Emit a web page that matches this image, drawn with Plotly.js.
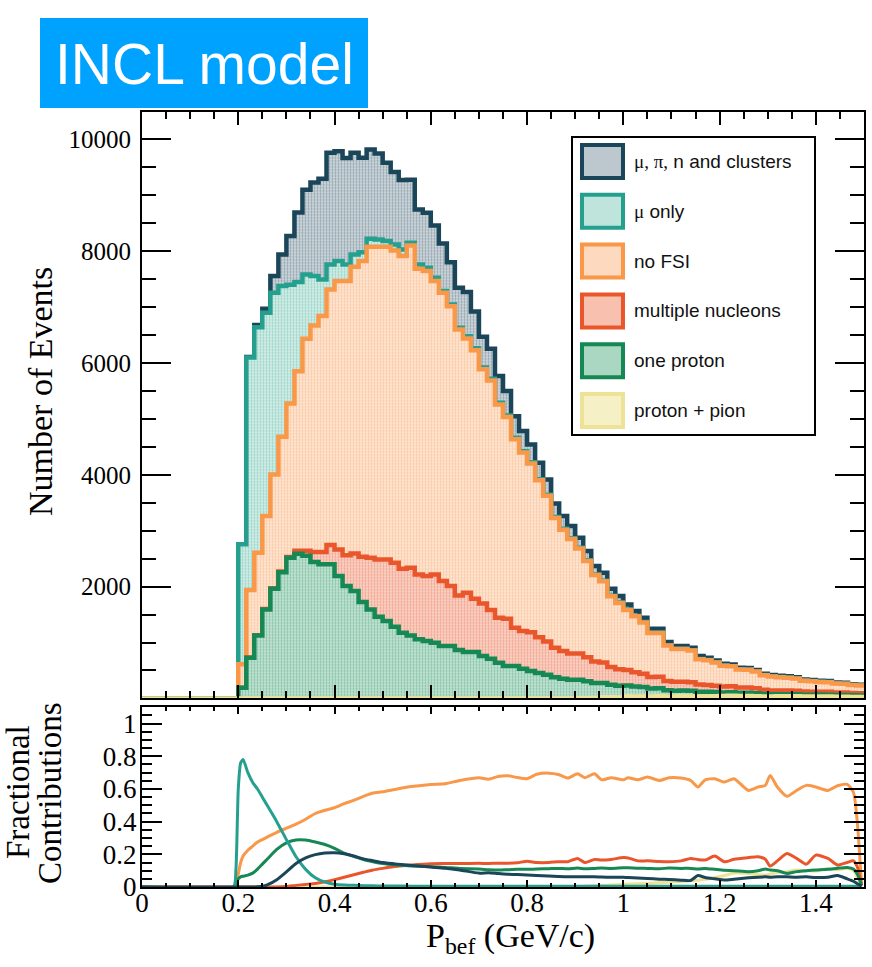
<!DOCTYPE html>
<html>
<head>
<meta charset="utf-8">
<script src="https://cdn.plot.ly/plotly-3.0.1.min.js"></script>
<style>
  html, body { margin: 0; padding: 0; background: #ffffff; }
  #chart { width: 872px; height: 967px; }
</style>
</head>
<body>
<div id="chart"></div>
<script>
// ---- binning of the momentum histograms ----
const nBins = 90;
const pMin = 0;
const pMax = 1.5;

// ---- bin contents per final-state category (events per bin) ----
const protonPion = [
  0,0,0,0,0,0,0,0,0,0, 0,0,0,0,0,0,0,0,0,0,
  0,0,0,0,0,0,0,0,0,0, 0,0,0,0,0,0,0,0,0,0,
  0,0,0,0,0,0,0,0,0,0, 0,0,0,0,9,8,7,22,20,18,
  34,31,35,31,37,30,33,37,36,34, 36,37,43,49,44,44,40,34,34,37,
  37,39,34,33,33,33,30,29,27,26
];
const oneProton = [
  0,0,0,0,0,0,0,0,0,0, 0,0,190,728,1127,1592,1962,2259,2516,2590,
  2550,2440,2400,2400,2190,2010,1920,1723,1592,1462, 1383,1283,1175,1127,1056,1025,996,936,936,864,
  828,828,757,710,639,578,578,531,491,455, 423,377,352,333,325,298,267,254,222,207,
  195,181,168,145,145,117,106,106,102,86, 82,77,62,61,55,55,51,44,40,38,
  38,36,32,31,35,34,31,31,28,27
];
const multiNucleons = [
  0,0,0,0,0,0,0,0,0,0, 0,0,0,2,3,8,8,11,14,50,
  90,180,220,345,476,550,674,812,924,1025, 1104,1145,1145,1211,1162,1163,1222,1163,1073,979,
  1063,955,943,870,805,848,687,673,691,641, 596,530,496,469,469,430,386,366,320,298,
  278,258,238,206,206,166,157,157,152,127, 122,114,109,106,96,95,89,77,69,67,
  65,63,56,54,50,50,46,44,41,39
];
const noFSI = [
  0,0,0,0,0,0,0,0,0,0, 0,0,420,1210,1476,1662,2037,2412,2748,3215,
  3795,4053,4220,4572,4800,4906,5128,5289,5564,5593, 5593,5587,5593,5766,5469,5457,5248,5159,5009,4758,
  4549,4445,4189,4107,3815,3610,3371,3195,3021,2805, 2605,2321,2170,2050,1877,1721,1546,1453,1266,1183,
  1074,998,917,790,784,634,588,584,567,453, 444,415,371,357,322,320,300,260,250,237,
  229,217,196,190,177,173,160,157,143,138
];
const muOnly = [
  0,0,0,0,0,0,0,0,0,0, 0,0,2150,4160,4034,3638,3250,2695,2122,1593,
  1150,882,656,447,358,298,221,160,144,132, 101,107,119,48,77,60,60,30,31,31,
  37,35,32,31,29,27,25,24,23,21, 20,17,16,15,14,13,12,11,10,9,
  8,8,7,6,6,5,5,5,5,4, 4,3,3,3,3,3,3,2,2,2,
  2,2,2,2,2,2,1,1,1,1
];
const clusters = [
  0,0,0,0,0,0,0,0,0,0, 0,0,0,10,40,72,298,566,871,1247,
  1515,1675,1801,1998,1967,1906,1819,1689,1598,1538, 1402,1294,1241,1128,984,985,936,852,756,715,
  792,657,550,538,478,435,389,359,318,295, 274,244,228,216,181,166,149,142,124,115,
  93,86,79,69,69,55,47,47,45,53, 40,34,32,32,29,28,27,23,25,24,
  24,23,20,20,18,18,17,16,15,14
];

// ---- fractional contributions versus momentum ----
const fracP = [
  0, 0.19, 0.195, 0.2, 0.205, 0.21, 0.22, 0.23, 0.24, 0.25,
  0.26, 0.28, 0.30, 0.32, 0.34, 0.36, 0.38, 0.40, 0.42, 0.44,
  0.46, 0.48, 0.50, 0.53, 0.56, 0.60, 0.63, 0.66, 0.70, 0.72,
  0.74, 0.76, 0.78, 0.80, 0.82, 0.845, 0.865, 0.885, 0.905, 0.92,
  0.94, 0.955, 0.975, 1.0, 1.01, 1.03, 1.05, 1.075, 1.095, 1.12,
  1.14, 1.155, 1.17, 1.19, 1.21, 1.23, 1.26, 1.28, 1.295, 1.305,
  1.32, 1.34, 1.36, 1.38, 1.40, 1.425, 1.445, 1.465, 1.478, 1.486,
  1.495
];
const fracMuOnly = [
  0, 0, 0.10, 0.60, 0.76, 0.78, 0.70, 0.64, 0.60, 0.55,
  0.50, 0.40, 0.29, 0.185, 0.108, 0.056, 0.03, 0.017, 0.012, 0.01,
  0.008, 0.007, 0.006, 0.006, 0.005, 0.005, 0.005, 0.005, 0.005, 0.005,
  0.005, 0.005, 0.005, 0.005, 0.005, 0.005, 0.005, 0.005, 0.005, 0.005,
  0.005, 0.005, 0.005, 0.005, 0.005, 0.005, 0.005, 0.005, 0.005, 0.005,
  0.005, 0.005, 0.005, 0.005, 0.005, 0.005, 0.005, 0.005, 0.005, 0.005,
  0.005, 0.005, 0.005, 0.005, 0.005, 0.005, 0.005, 0.005, 0.005, 0.004,
  0
];
const fracNoFSI = [
  0, 0, 0.01, 0.08, 0.15, 0.19, 0.225, 0.25, 0.275, 0.29,
  0.305, 0.335, 0.36, 0.385, 0.415, 0.45, 0.47, 0.485, 0.51, 0.53,
  0.555, 0.575, 0.583, 0.60, 0.615, 0.628, 0.632, 0.652, 0.669, 0.66,
  0.677, 0.681, 0.67, 0.663, 0.69, 0.697, 0.689, 0.667, 0.693, 0.669,
  0.693, 0.656, 0.669, 0.656, 0.669, 0.656, 0.673, 0.652, 0.669, 0.667,
  0.652, 0.612, 0.656, 0.663, 0.642, 0.663, 0.591, 0.612, 0.622, 0.683,
  0.612, 0.555, 0.591, 0.622, 0.612, 0.591, 0.62, 0.628, 0.58, 0.40,
  0.01
];
const fracOneProton = [
  0, 0, 0.02, 0.05, 0.062, 0.066, 0.073, 0.085, 0.11, 0.14,
  0.17, 0.23, 0.27, 0.288, 0.287, 0.275, 0.26, 0.237, 0.207, 0.187,
  0.168, 0.155, 0.144, 0.135, 0.129, 0.124, 0.12, 0.114, 0.11, 0.106,
  0.104, 0.106, 0.108, 0.108, 0.11, 0.112, 0.114, 0.112, 0.116, 0.112,
  0.114, 0.116, 0.114, 0.118, 0.118, 0.115, 0.114, 0.112, 0.116, 0.114,
  0.114, 0.11, 0.114, 0.108, 0.102, 0.1, 0.094, 0.1, 0.11, 0.104,
  0.1, 0.083, 0.094, 0.1, 0.104, 0.108, 0.115, 0.12, 0.11, 0.08,
  0.01
];
const fracClusters = [
  0, 0, 0, 0, 0, 0, 0, 0, 0.002, 0.005,
  0.013, 0.045, 0.093, 0.144, 0.178, 0.198, 0.208, 0.21, 0.203, 0.19,
  0.172, 0.161, 0.15, 0.14, 0.132, 0.122, 0.115, 0.104, 0.085, 0.087,
  0.082, 0.078, 0.076, 0.073, 0.07, 0.067, 0.064, 0.063, 0.063, 0.062,
  0.063, 0.061, 0.06, 0.059, 0.058, 0.055, 0.052, 0.048, 0.046, 0.042,
  0.04, 0.07, 0.058, 0.05, 0.043, 0.048, 0.056, 0.06, 0.062, 0.06,
  0.063, 0.062, 0.06, 0.062, 0.058, 0.06, 0.07, 0.05, 0.035, 0.02,
  0.005
];
const fracMultiNucleons = [
  0, 0, 0, 0, 0, 0, 0, 0, 0, 0,
  0, 0, 0.003, 0.01, 0.016, 0.022, 0.032, 0.045, 0.06, 0.075,
  0.09, 0.104, 0.114, 0.127, 0.135, 0.143, 0.144, 0.144, 0.145, 0.144,
  0.146, 0.145, 0.148, 0.158, 0.15, 0.15, 0.155, 0.155, 0.175, 0.15,
  0.169, 0.165, 0.169, 0.18, 0.178, 0.16, 0.16, 0.156, 0.155, 0.16,
  0.175, 0.168, 0.165, 0.189, 0.154, 0.17, 0.18, 0.185, 0.17, 0.128,
  0.16, 0.205, 0.175, 0.14, 0.195, 0.175, 0.135, 0.15, 0.16, 0.124,
  0.01
];
const fracProtonPion = [
  0, 0, 0, 0, 0, 0, 0, 0, 0, 0,
  0, 0, 0, 0, 0, 0, 0, 0, 0, 0,
  0, 0, 0, 0, 0, 0, 0, 0, 0, 0,
  0, 0, 0, 0, 0, 0, 0, 0, 0, 0.005,
  0.008, 0.01, 0.012, 0.016, 0.018, 0.02, 0.022, 0.026, 0.03, 0.034,
  0.038, 0.042, 0.048, 0.058, 0.07, 0.085, 0.083, 0.075, 0.073, 0.08,
  0.088, 0.094, 0.104, 0.1, 0.098, 0.114, 0.105, 0.114, 0.1, 0.06,
  0.005
];

// ---- axis tick labels ----
const countTicks = [2000, 4000, 6000, 8000, 10000];
const countTickText = ['2000', '4000', '6000', '8000', '10000'];

// ---- legend / category labels ----
const categoryLabels = [
  '<span style="font-family:Liberation Serif">\u03bc, \u03c0,</span> n and clusters',
  '<span style="font-family:Liberation Serif">\u03bc</span> only',
  'no FSI',
  'multiple nucleons',
  'one proton',
  'proton + pion'
];

// ---- styling ----
const W = 872, H = 967;
const px = v => v / W;
const py = v => 1 - v / H;
const serif = 'Liberation Serif';
const sans = 'Liberation Sans';

// top of stack first: outline colour, swatch fill, dotted pattern colours
const styles = [
  { line: '#1b4559', fill: '#bcc7ce', dotBg: '#d5dce0', dotFg: '#93a5b1' },  // clusters
  { line: '#26a08e', fill: '#bfe4dc', dotBg: '#dcf1ec', dotFg: '#99d4c8' },  // mu only
  { line: '#f89848', fill: '#fdd9bf', dotBg: '#feeadb', dotFg: '#fcc8a0' },  // no FSI
  { line: '#ea562c', fill: '#f8c0ae', dotBg: '#fbd9ce', dotFg: '#f3a38d' },  // multiple nucleons
  { line: '#168854', fill: '#a9d7c1', dotBg: '#cae7d9', dotFg: '#86c4a7' },  // one proton
  { line: '#eee296', fill: '#f6f0c6', dotBg: '#faf6df', dotFg: '#efe6ad' }   // proton + pion
];

// stacking, bottom category first
const stackBottomUp = [protonPion, oneProton, multiNucleons, noFSI, muOnly, clusters];
const cumulative = [];
let running = new Array(nBins).fill(0);
for (const comp of stackBottomUp) {
  running = running.map((v, i) => v + comp[i]);
  cumulative.push(running.slice());
}
cumulative.reverse(); // top of stack first, matching styles

const binWidth = (pMax - pMin) / nBins;
const edges = Array.from({ length: nBins + 1 }, (_, i) => pMin + i * binWidth);

const traces = [];
cumulative.forEach((cum, k) => {
  traces.push({
    type: 'scatter', mode: 'lines',
    x: edges, y: cum.concat([cum[cum.length - 1]]),
    line: { shape: 'hv', width: 4.5, color: styles[k].line },
    fill: 'tozeroy', fillcolor: styles[k].fill,
    fillpattern: { shape: '.', size: 3, solidity: 0.45, fillmode: 'replace',
                   bgcolor: styles[k].dotBg, fgcolor: styles[k].dotFg },
    xaxis: 'x', yaxis: 'y', hoverinfo: 'skip', showlegend: false
  });
});

const fracSeries = [
  [fracProtonPion, styles[5].line],
  [fracNoFSI, styles[2].line],
  [fracMultiNucleons, styles[3].line],
  [fracOneProton, styles[4].line],
  [fracMuOnly, styles[1].line],
  [fracClusters, styles[0].line]
];
fracSeries.forEach(([ys, color]) => {
  traces.push({
    type: 'scatter', mode: 'lines', x: fracP, y: ys,
    line: { shape: 'spline', smoothing: 0.6, width: 3, color: color },
    xaxis: 'x2', yaxis: 'y2', hoverinfo: 'skip', showlegend: false
  });
});

const xDomain = [px(142), px(864)];
const commonAxis = {
  showline: true, linecolor: '#000', linewidth: 2, mirror: 'ticks',
  ticks: 'inside', tickcolor: '#000', tickwidth: 2,
  showgrid: false, zeroline: false
};

const shapes = [
  // title banner
  { type: 'rect', xref: 'paper', yref: 'paper', x0: px(40), x1: px(368), y0: py(108), y1: py(18),
    fillcolor: '#00a2ff', line: { width: 0 }, layer: 'above' },
  // legend frame
  { type: 'rect', xref: 'paper', yref: 'paper', x0: px(572), x1: px(815), y0: py(435), y1: py(137),
    fillcolor: '#ffffff', line: { color: '#000', width: 2 }, layer: 'above' }
];
const annotations = [
  { text: 'INCL model', xref: 'paper', yref: 'paper', x: px(204), y: py(64),
    xanchor: 'center', yanchor: 'middle', showarrow: false,
    font: { family: sans, size: 57, color: '#ffffff' } },
  { text: 'Number of Events', xref: 'paper', yref: 'paper', x: px(40), y: py(392),
    textangle: -90, xanchor: 'center', yanchor: 'middle', showarrow: false,
    font: { family: serif, size: 34, color: '#000' } },
  { text: 'Fractional', xref: 'paper', yref: 'paper', x: px(18), y: py(792),
    textangle: -90, xanchor: 'center', yanchor: 'middle', showarrow: false,
    font: { family: serif, size: 33, color: '#000' } },
  { text: 'Contributions', xref: 'paper', yref: 'paper', x: px(50), y: py(793),
    textangle: -90, xanchor: 'center', yanchor: 'middle', showarrow: false,
    font: { family: serif, size: 33, color: '#000' } },
  { text: 'P<sub>bef</sub> (GeV/c)', xref: 'paper', yref: 'paper', x: px(510), y: py(938),
    xanchor: 'center', yanchor: 'middle', showarrow: false,
    font: { family: serif, size: 34, color: '#000' } }
];

categoryLabels.forEach((label, k) => {
  const cy = 161.5 + 49.8 * k;
  shapes.push({
    type: 'rect', xref: 'paper', yref: 'paper',
    x0: px(582), x1: px(623), y0: py(cy + 16.5), y1: py(cy - 16.5),
    fillcolor: styles[k].fill, line: { color: styles[k].line, width: 4 }, layer: 'above'
  });
  annotations.push({
    text: label, xref: 'paper', yref: 'paper', x: px(632), y: py(cy),
    xanchor: 'left', yanchor: 'middle', showarrow: false,
    font: { family: sans, size: 19, color: '#111' }
  });
});

const layout = {
  width: W, height: H,
  margin: { l: 0, r: 0, t: 0, b: 0 },
  paper_bgcolor: '#ffffff', plot_bgcolor: '#ffffff',
  showlegend: false,
  xaxis: Object.assign({}, commonAxis, {
    domain: xDomain, anchor: 'y', range: [pMin, pMax],
    tick0: 0, dtick: 0.2, ticklen: 13, showticklabels: false,
    minor: { ticks: 'inside', tick0: 0, dtick: 0.05, ticklen: 7, tickwidth: 2, tickcolor: '#000' }
  }),
  yaxis: Object.assign({}, commonAxis, {
    domain: [py(698.4), py(111.5)], anchor: 'x', range: [0, 10500],
    tickmode: 'array', tickvals: countTicks, ticktext: countTickText,
    ticklen: 29, ticklabelstandoff: 4,
    tickfont: { family: serif, size: 25, color: '#000' },
    minor: { ticks: 'inside', tick0: 0, dtick: 500, ticklen: 14, tickwidth: 2, tickcolor: '#000' }
  }),
  xaxis2: Object.assign({}, commonAxis, {
    domain: xDomain, anchor: 'y2', range: [pMin, pMax],
    tick0: 0, dtick: 0.2, ticklen: 7, ticklabelstandoff: -9,
    tickfont: { family: serif, size: 27, color: '#000' },
    minor: { ticks: 'inside', tick0: 0, dtick: 0.05, ticklen: 4, tickwidth: 2, tickcolor: '#000' }
  }),
  yaxis2: Object.assign({}, commonAxis, {
    domain: [py(887), py(707.3)], anchor: 'x2', range: [0, 1.1],
    tick0: 0, dtick: 0.2, ticklen: 20, ticklabelstandoff: -2,
    tickfont: { family: serif, size: 27, color: '#000' },
    minor: { ticks: 'inside', tick0: 0, dtick: 0.05, ticklen: 10, tickwidth: 2, tickcolor: '#000' }
  }),
  shapes: shapes,
  annotations: annotations
};

Plotly.newPlot('chart', traces, layout, { staticPlot: true, displayModeBar: false });
</script>
</body>
</html>
